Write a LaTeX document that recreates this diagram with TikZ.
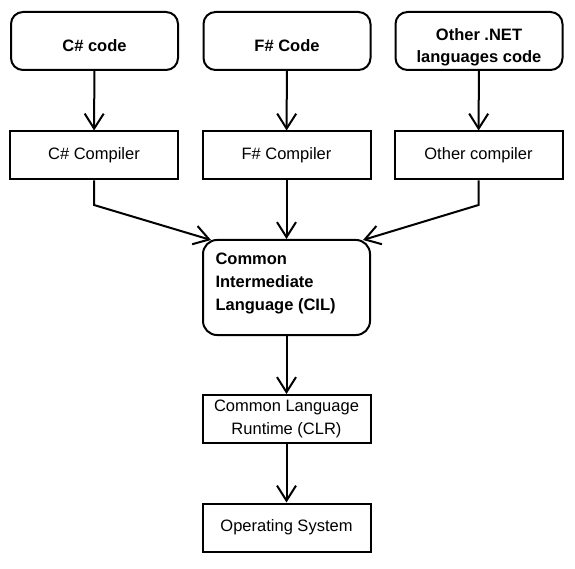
\documentclass[tikz,border=0pt]{standalone}
\usepackage{fontspec}
\setmainfont{Liberation Sans}
\usetikzlibrary{arrows.meta}
\begin{document}
\begin{tikzpicture}[x=1pt,y=-1pt,
  every node/.style={font=\fontsize{16.5}{23}\selectfont},
  srcbox/.style={draw,line width=2pt,rounded corners=12pt,minimum width=167pt,minimum height=58pt},
  srctext/.style={align=center,font=\fontsize{16.5}{22}\selectfont\bfseries},
  procbox/.style={draw,line width=2pt,minimum width=168pt,minimum height=48pt,align=center},
  conn/.style={line width=2pt,-{Straight Barb[length=15pt,width=19pt,line width=2pt]}}]
\useasboundingbox (0,0) rectangle (575,569);
\node[srcbox] (cs) at (94.5,41) {};
\node[srcbox] (fs) at (287,41) {};
\node[srcbox] (on) at (479,41) {};
\node[srctext] (cst) at (94.5,46) {C\# code};
\node[srctext] (fst) at (287,46) {F\# Code};
\node[srctext] (ont) at (479,47) {Other .NET\\languages code};
\node[procbox] (csc) at (94,155.5) {C\# Compiler};
\node[procbox] (fsc) at (286.5,155.5) {F\# Compiler};
\node[procbox] (onc) at (478.5,155.5) {Other compiler};
\node[draw,line width=2pt,rounded corners=14pt,minimum width=167pt,minimum height=95pt] (cil) at (286.5,287.5) {};
\node[anchor=north west,align=left,font=\fontsize{16.5}{23}\selectfont\bfseries] (ciltext) at (212,249) {Common\\Intermediate\\Language (CIL)};
\node[procbox,align=center] (clr) at (286.5,419) {Common Language\\Runtime (CLR)};
\node[procbox] (os) at (286.5,527.5) {Operating System};
\coordinate (lb) at (94,205);
\coordinate (rb) at (478.5,205);
\coordinate (tl) at (211,240);
\coordinate (tr) at (363,240);
\draw[conn] (cs) -- (csc);
\draw[conn] (fs) -- (fsc);
\draw[conn] (on) -- (onc);
\draw[conn] (csc.south) -- (lb) -- (tl);
\draw[conn] (fsc) -- (cil);
\draw[conn] (onc.south) -- (rb) -- (tr);
\draw[conn] (cil) -- (clr);
\draw[conn] (clr) -- (os);
\end{tikzpicture}
\end{document}
